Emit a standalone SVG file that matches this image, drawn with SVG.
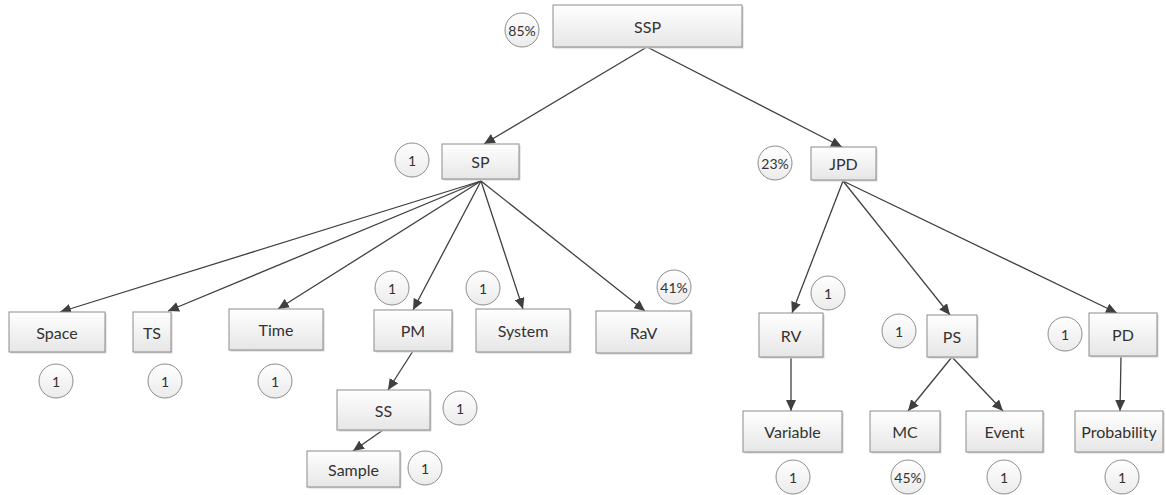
<svg xmlns="http://www.w3.org/2000/svg" width="1166" height="495" viewBox="0 0 1166 495">
<defs>
<linearGradient id="g" x1="0" y1="0" x2="0" y2="1">
<stop offset="0" stop-color="#ffffff"/>
<stop offset="1" stop-color="#e6e6e6"/>
</linearGradient>
<linearGradient id="gc" x1="0" y1="0" x2="0" y2="1">
<stop offset="0" stop-color="#ffffff"/>
<stop offset="1" stop-color="#ebebeb"/>
</linearGradient>
<marker id="ah" markerUnits="userSpaceOnUse" markerWidth="12" markerHeight="10" refX="11" refY="5" orient="auto">
<path d="M0,0 L11,5 L0,10 Z" fill="#3f3f3f"/>
</marker>
</defs>
<style>
.b{fill:url(#g);stroke:#8c8c8c;stroke-width:1}
.sh{fill:#d4d4d4}
.c{fill:url(#gc);stroke:#8c8c8c;stroke-width:1}
.t{font-family:Lato,"Liberation Sans",sans-serif;font-size:16px;fill:#333;text-anchor:middle;dominant-baseline:central}
.ct{font-family:Lato,"Liberation Sans",sans-serif;font-size:14px;fill:#333;text-anchor:middle;dominant-baseline:central}
.e{stroke:#404040;stroke-width:1.3;fill:none;marker-end:url(#ah)}
</style>
<rect width="1166" height="495" fill="#ffffff"/>
<g id="connectors">
<line class="e" x1="647" y1="47" x2="484" y2="144"/>
<line class="e" x1="647" y1="47" x2="842" y2="147"/>
<line class="e" x1="481" y1="181" x2="60" y2="312"/>
<line class="e" x1="481" y1="181" x2="168" y2="311"/>
<line class="e" x1="481" y1="181" x2="278" y2="309"/>
<line class="e" x1="481" y1="181" x2="413" y2="310"/>
<line class="e" x1="481" y1="181" x2="523" y2="309"/>
<line class="e" x1="481" y1="181" x2="645" y2="311"/>
<line class="e" x1="843" y1="181" x2="792" y2="313"/>
<line class="e" x1="843" y1="181" x2="950" y2="315"/>
<line class="e" x1="843" y1="181" x2="1117" y2="313"/>
<line class="e" x1="413" y1="351" x2="388" y2="390"/>
<line class="e" x1="383" y1="430" x2="353" y2="451"/>
<line class="e" x1="791" y1="357" x2="791" y2="411"/>
<line class="e" x1="952" y1="357" x2="908" y2="411"/>
<line class="e" x1="952" y1="357" x2="1003" y2="411"/>
<line class="e" x1="1121" y1="356" x2="1120" y2="411"/>
</g>
<g id="SSP"><rect class="sh" x="554.5" y="6.5" width="189" height="42"/><rect class="b" x="553" y="5" width="189" height="42"/><text class="t" x="647.5" y="26">SSP</text></g>
<g id="SP"><rect class="sh" x="443.5" y="145.5" width="77" height="35"/><rect class="b" x="442" y="144" width="77" height="35"/><text class="t" x="480.5" y="161.5">SP</text></g>
<g id="JPD"><rect class="sh" x="812.5" y="148.5" width="65" height="33"/><rect class="b" x="811" y="147" width="65" height="33"/><text class="t" x="843.5" y="163.5">JPD</text></g>
<g id="Space"><rect class="sh" x="10.5" y="313.5" width="96" height="40"/><rect class="b" x="9" y="312" width="96" height="40"/><text class="t" x="57" y="332">Space</text></g>
<g id="TS"><rect class="sh" x="134.5" y="313.5" width="38" height="40"/><rect class="b" x="133" y="312" width="38" height="40"/><text class="t" x="152" y="332">TS</text></g>
<g id="Time"><rect class="sh" x="230.5" y="310.5" width="94" height="41"/><rect class="b" x="229" y="309" width="94" height="41"/><text class="t" x="276" y="329.5">Time</text></g>
<g id="PM"><rect class="sh" x="375.5" y="311.5" width="78" height="41"/><rect class="b" x="374" y="310" width="78" height="41"/><text class="t" x="413" y="330.5">PM</text></g>
<g id="System"><rect class="sh" x="477.5" y="310.5" width="94" height="43"/><rect class="b" x="476" y="309" width="94" height="43"/><text class="t" x="523" y="330.5">System</text></g>
<g id="RaV"><rect class="sh" x="597.5" y="312.5" width="95" height="42"/><rect class="b" x="596" y="311" width="95" height="42"/><text class="t" x="643.5" y="332">RaV</text></g>
<g id="RV"><rect class="sh" x="760.5" y="314.5" width="64" height="44"/><rect class="b" x="759" y="313" width="64" height="44"/><text class="t" x="791" y="335">RV</text></g>
<g id="PS"><rect class="sh" x="928.5" y="316.5" width="50" height="42"/><rect class="b" x="927" y="315" width="50" height="42"/><text class="t" x="952" y="336">PS</text></g>
<g id="PD"><rect class="sh" x="1090.5" y="314.5" width="68" height="43"/><rect class="b" x="1089" y="313" width="68" height="43"/><text class="t" x="1123" y="334.5">PD</text></g>
<g id="SS"><rect class="sh" x="338.5" y="391.5" width="93" height="40"/><rect class="b" x="337" y="390" width="93" height="40"/><text class="t" x="383.5" y="410">SS</text></g>
<g id="Sample"><rect class="sh" x="308.5" y="452.5" width="93" height="36"/><rect class="b" x="307" y="451" width="93" height="36"/><text class="t" x="353.5" y="469">Sample</text></g>
<g id="Variable"><rect class="sh" x="744.5" y="412.5" width="99" height="41"/><rect class="b" x="743" y="411" width="99" height="41"/><text class="t" x="792.5" y="431.5">Variable</text></g>
<g id="MC"><rect class="sh" x="871.5" y="412.5" width="70" height="41"/><rect class="b" x="870" y="411" width="70" height="41"/><text class="t" x="905" y="431.5">MC</text></g>
<g id="Event"><rect class="sh" x="967.5" y="412.5" width="77" height="41"/><rect class="b" x="966" y="411" width="77" height="41"/><text class="t" x="1004.5" y="431.5">Event</text></g>
<g id="Probability"><rect class="sh" x="1076.5" y="412.5" width="88" height="41"/><rect class="b" x="1075" y="411" width="88" height="41"/><text class="t" x="1119" y="431.5">Probability</text></g>
<g id="c-SSP"><circle class="c" cx="522" cy="30" r="17"/><text class="ct" x="522" y="30">85%</text></g>
<g id="c-SP"><circle class="c" cx="412" cy="160" r="17"/><text class="ct" x="412" y="160">1</text></g>
<g id="c-JPD"><circle class="c" cx="775" cy="163" r="17"/><text class="ct" x="775" y="163">23%</text></g>
<g id="c-Space"><circle class="c" cx="56" cy="381" r="17"/><text class="ct" x="56" y="381">1</text></g>
<g id="c-TS"><circle class="c" cx="165" cy="381" r="17"/><text class="ct" x="165" y="381">1</text></g>
<g id="c-Time"><circle class="c" cx="275" cy="381" r="17"/><text class="ct" x="275" y="381">1</text></g>
<g id="c-PM"><circle class="c" cx="392" cy="288" r="17"/><text class="ct" x="392" y="288">1</text></g>
<g id="c-System"><circle class="c" cx="483" cy="288" r="17"/><text class="ct" x="483" y="288">1</text></g>
<g id="c-RaV"><circle class="c" cx="674" cy="287" r="17"/><text class="ct" x="674" y="287">41%</text></g>
<g id="c-RV"><circle class="c" cx="828" cy="293" r="17"/><text class="ct" x="828" y="293">1</text></g>
<g id="c-PS"><circle class="c" cx="899" cy="331" r="17"/><text class="ct" x="899" y="331">1</text></g>
<g id="c-PD"><circle class="c" cx="1065" cy="334" r="17"/><text class="ct" x="1065" y="334">1</text></g>
<g id="c-SS"><circle class="c" cx="460" cy="408" r="17"/><text class="ct" x="460" y="408">1</text></g>
<g id="c-Sample"><circle class="c" cx="425" cy="468" r="17"/><text class="ct" x="425" y="468">1</text></g>
<g id="c-Variable"><circle class="c" cx="793" cy="477" r="17"/><text class="ct" x="793" y="477">1</text></g>
<g id="c-MC"><circle class="c" cx="908" cy="477" r="17"/><text class="ct" x="908" y="477">45%</text></g>
<g id="c-Event"><circle class="c" cx="1004" cy="477" r="17"/><text class="ct" x="1004" y="477">1</text></g>
<g id="c-Probability"><circle class="c" cx="1122" cy="477" r="17"/><text class="ct" x="1122" y="477">1</text></g>
</svg>
